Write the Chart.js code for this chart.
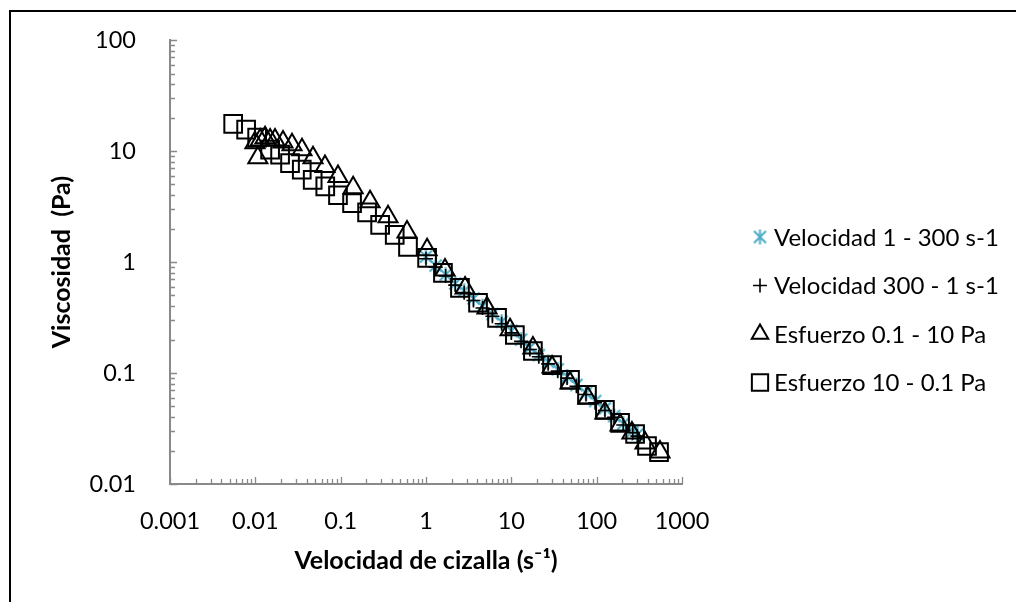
<!DOCTYPE html>
<html>
<head>
<meta charset="utf-8">
<title>Viscosidad vs velocidad de cizalla</title>
<script src="https://cdn.jsdelivr.net/npm/chart.js"></script>
<style>
  body { margin: 0; background: #fff; overflow: hidden; }
  #wrap { position: relative; width: 1016px; height: 602px; overflow: hidden; }
  #frame { position: absolute; left: 9px; top: 10px; width: 1100px; height: 700px;
           border: 2px solid #000; box-sizing: border-box; pointer-events: none; }
</style>
</head>
<body>
<div id="wrap">
  <canvas id="myChart" width="1016" height="602"></canvas>
  <div id="frame"></div>
</div>
<script>
// tick labels, only the decades get one
const xTickLabels = ['0.001', '0.01', '0.1', '1', '10', '100', '1000'];
const yTickLabels = ['0.01', '0.1', '1', '10', '100'];

const seriesNames = ['Velocidad 1 - 300 s-1', 'Velocidad 300 - 1 s-1', 'Esfuerzo 0.1 - 10 Pa', 'Esfuerzo 10 - 0.1 Pa'];

// Velocidad 1 - 300 s-1 (asterisks)
const velUpX = [1.0, 1.3, 1.7, 2.2, 2.8, 3.6, 4.6, 6.0, 7.7, 10, 13, 16.5, 21, 27, 35, 45, 58, 75, 96, 125, 160, 205, 265, 300];
const velUpY = [1.12, 0.93, 0.77, 0.64, 0.55, 0.47, 0.40, 0.34, 0.29, 0.24, 0.20, 0.17, 0.145, 0.126, 0.108, 0.093, 0.078, 0.066, 0.056, 0.048, 0.041, 0.035, 0.030, 0.028];

// Velocidad 300 - 1 s-1 (plus)
const velDownX = [300, 265, 205, 160, 125, 96, 75, 58, 45, 35, 27, 21, 16.5, 13, 10, 7.7, 6.0, 4.6, 3.6, 2.8, 2.2, 1.7, 1.3, 1.0];
const velDownY = [0.027, 0.029, 0.034, 0.040, 0.046, 0.054, 0.064, 0.076, 0.090, 0.104, 0.121, 0.140, 0.163, 0.193, 0.23, 0.278, 0.325, 0.385, 0.45, 0.53, 0.62, 0.75, 0.90, 1.07];

// Esfuerzo 0.1 - 10 Pa (triangles)
const stressUpX = [0.0107, 0.0099, 0.0114, 0.013, 0.0149, 0.017, 0.0211, 0.0269, 0.0352, 0.0474, 0.0655, 0.093, 0.14, 0.221, 0.359, 0.599,
                   1.03, 1.67, 2.87, 5.19, 9.66, 17.9, 30, 48.7, 79, 125, 188, 259, 369, 552];
const stressUpY = [8.7, 11.9, 12.6, 13.2, 12.6, 12.6, 12.1, 11.4, 10.3, 8.7, 7.27, 5.9, 4.67, 3.49, 2.56, 1.87,
                   1.29, 0.85, 0.585, 0.386, 0.245, 0.168, 0.1135, 0.0814, 0.0596, 0.0437, 0.034, 0.0288, 0.0234, 0.0194];

// Esfuerzo 10 - 0.1 Pa (squares)
const stressDownX = [538, 389, 282, 188, 125, 77, 48.7, 30, 17.9, 11, 6.8, 4.07, 2.5, 1.58, 1.03,
                     0.615, 0.43, 0.29, 0.204, 0.136, 0.093, 0.066, 0.047, 0.035, 0.0255, 0.0195, 0.0149, 0.0105, 0.0078, 0.0055];
const stressDownY = [0.0194, 0.022, 0.0282, 0.0355, 0.0465, 0.0635, 0.087, 0.118, 0.158, 0.22, 0.314, 0.43, 0.585, 0.80, 1.09,
                     1.37, 1.76, 2.16, 2.8, 3.4, 4.0, 4.8, 5.5, 6.8, 7.8, 9.3, 10.3, 13.2, 15.6, 17.6];

const toPoints = (xs, ys) => xs.map((x, i) => ({ x: x, y: ys[i] }));

const axisGray = '#898989';
const teal = '#4bacc6';

// excel style asterisk: an X plus a vertical bar
function makeAsterisk(size, color, lw) {
  const c = document.createElement('canvas');
  c.width = size; c.height = size;
  const g = c.getContext('2d');
  const h = size / 2, r = h - 1;
  g.strokeStyle = color;
  g.lineWidth = lw;
  g.beginPath();
  g.moveTo(h - r * 0.8, h - r * 0.8); g.lineTo(h + r * 0.8, h + r * 0.8);
  g.moveTo(h + r * 0.8, h - r * 0.8); g.lineTo(h - r * 0.8, h + r * 0.8);
  g.moveTo(h, h - r); g.lineTo(h, h + r);
  g.stroke();
  return c;
}
const asterisk = makeAsterisk(17, teal, 2);

function isDecade(v) {
  const l = Math.log10(v);
  return Math.abs(l - Math.round(l)) < 1e-6;
}
// keep 1..9 x 10^n only (drop the 1.5 ticks chart.js adds)
function keepWholeTicks(scale) {
  scale.ticks = scale.ticks.filter(t => {
    const m = t.value / Math.pow(10, Math.floor(Math.log10(t.value) + 1e-9));
    return Math.abs(m - Math.round(m)) < 1e-6;
  });
}
function labelFrom(list) {
  return function (value) {
    const i = list.findIndex(l => Math.abs(Number(l) - value) / value < 1e-6);
    return i >= 0 ? list[i] : '';
  };
}

// tick marks pointing into the plot, like the excel original
const insideTicks = {
  id: 'insideTicks',
  afterDraw(chart) {
    const ctx = chart.ctx;
    const area = chart.chartArea;
    const xs = chart.scales.x, ys = chart.scales.y;
    ctx.save();
    ctx.strokeStyle = axisGray;
    ctx.lineWidth = 1.3;
    ctx.beginPath();
    xs.ticks.forEach(t => {
      const px = Math.round(xs.getPixelForValue(t.value)) + 0.5;
      const len = isDecade(t.value) ? 7 : 5;
      ctx.moveTo(px, area.bottom);
      ctx.lineTo(px, area.bottom - len);
    });
    ys.ticks.forEach(t => {
      const py = Math.round(ys.getPixelForValue(t.value)) + 0.5;
      const len = isDecade(t.value) ? 7 : 5;
      ctx.moveTo(area.left, py);
      ctx.lineTo(area.left + len, py);
    });
    ctx.stroke();
    ctx.restore();
  }
};

// legend drawn by hand so it sits where the original has it
const sideLegend = {
  id: 'sideLegend',
  afterDraw(chart) {
    const ctx = chart.ctx;
    const o = chart.options.plugins.sideLegend;
    ctx.save();
    chart.data.datasets.forEach((ds, i) => {
      const y = o.top + i * o.rowGap;
      ctx.strokeStyle = ds.borderColor;
      ctx.fillStyle = 'rgba(0,0,0,0)';
      ctx.lineWidth = ds.borderWidth;
      Chart.helpers.drawPoint(ctx, {
        pointStyle: ds.pointStyle, rotation: 0,
        radius: ds.legendRadius, borderWidth: ds.borderWidth
      }, o.markerX, y);
      ctx.fillStyle = '#000';
      ctx.font = o.font;
      ctx.textBaseline = 'alphabetic';
      ctx.textAlign = 'left';
      ctx.fillText(ds.label, o.textX, y + 8.5);
    });
    ctx.restore();
  }
};

const ctx = document.getElementById('myChart');
new Chart(ctx, {
  type: 'scatter',
  data: {
    datasets: [
      {
        label: seriesNames[0],
        data: toPoints(velUpX, velUpY),
        pointStyle: asterisk,
        borderColor: teal,
        backgroundColor: 'rgba(0,0,0,0)',
        borderWidth: 2,
        pointRadius: 8,
        legendRadius: 8,
        order: 4
      },
      {
        label: seriesNames[1],
        data: toPoints(velDownX, velDownY),
        pointStyle: 'cross',
        borderColor: '#000',
        backgroundColor: 'rgba(0,0,0,0)',
        borderWidth: 1.6,
        pointRadius: 7,
        legendRadius: 7,
        order: 3
      },
      {
        label: seriesNames[2],
        data: toPoints(stressUpX, stressUpY),
        pointStyle: 'triangle',
        borderColor: '#000',
        backgroundColor: 'rgba(0,0,0,0)',
        borderWidth: 2,
        pointRadius: 11,
        legendRadius: 9.5,
        order: 2
      },
      {
        label: seriesNames[3],
        data: toPoints(stressDownX, stressDownY),
        pointStyle: 'rect',
        borderColor: '#000',
        backgroundColor: 'rgba(0,0,0,0)',
        borderWidth: 2,
        pointRadius: 12.5,
        legendRadius: 11.5,
        order: 1
      }
    ]
  },
  options: {
    responsive: false,
    animation: false,
    layout: { padding: { left: 0, top: 40, right: 334, bottom: 0 } },
    plugins: {
      legend: { display: false },
      tooltip: { enabled: false },
      sideLegend: { markerX: 760, textX: 774, top: 237, rowGap: 48.5, font: '24px Lato' }
    },
    scales: {
      x: {
        type: 'logarithmic',
        min: 0.001,
        max: 1000,
        afterFit: s => { s.height = 118; },
        afterBuildTicks: keepWholeTicks,
        grid: { display: false },
        border: { display: true, color: axisGray, width: 2 },
        ticks: {
          autoSkip: false,
          maxRotation: 0,
          padding: 15,
          color: '#000',
          font: { family: 'Lato', size: 23.5 },
          callback: labelFrom(xTickLabels)
        },
        title: {
          display: true,
          text: 'Velocidad de cizalla (s\u207B\u00B9)',
          color: '#000',
          font: { family: 'Lato', size: 25, weight: 'bold' },
          padding: { top: 0, bottom: 26 }
        }
      },
      y: {
        type: 'logarithmic',
        min: 0.01,
        max: 100,
        afterFit: s => { s.width = 170; },
        afterBuildTicks: keepWholeTicks,
        grid: { display: false },
        border: { display: true, color: axisGray, width: 2 },
        ticks: {
          autoSkip: false,
          padding: 26,
          color: '#000',
          font: { family: 'Lato', size: 23.5 },
          callback: labelFrom(yTickLabels)
        },
        title: {
          display: true,
          text: 'Viscosidad  (Pa)',
          color: '#000',
          font: { family: 'Lato', size: 25, weight: 'bold' },
          padding: { top: 47, bottom: 0 }
        }
      }
    }
  },
  plugins: [insideTicks, sideLegend]
});
</script>
</body>
</html>
